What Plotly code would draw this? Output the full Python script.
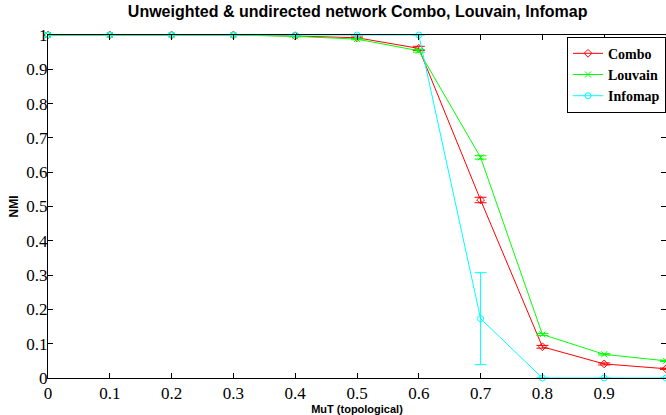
import plotly.graph_objects as go

mut = [0, 0.1, 0.2, 0.3, 0.4, 0.5, 0.6, 0.7, 0.8, 0.9, 1.0]
combo = [1.0, 1.0, 1.0, 1.0, 0.997, 0.992, 0.961, 0.519, 0.091, 0.041, 0.027]
combo_err = [0, 0, 0, 0, 0.002, 0.002, 0.006, 0.008, 0.004, 0.003, 0.002]
louvain = [1.0, 1.0, 1.0, 1.0, 0.996, 0.988, 0.954, 0.643, 0.127, 0.069, 0.05]
louvain_err = [0, 0, 0, 0, 0.001, 0.002, 0.004, 0.005, 0.003, 0.002, 0.002]
infomap = [1.0, 1.0, 1.0, 1.0, 1.0, 1.0, 1.0, 0.173, 0.0, 0.0, 0.0]
infomap_err = [0, 0, 0, 0, 0, 0, 0, 0.134, 0, 0, 0]

tick_vals = [0, 0.1, 0.2, 0.3, 0.4, 0.5, 0.6, 0.7, 0.8, 0.9, 1.0]
tick_text = ["0", "0.1", "0.2", "0.3", "0.4", "0.5", "0.6", "0.7", "0.8", "0.9", "1"]

series = [
    ("Combo", combo, combo_err, "#ff0000", "diamond-open"),
    ("Louvain", louvain, louvain_err, "#00ff00", "x-thin-open"),
    ("Infomap", infomap, infomap_err, "#00ffff", "circle-open"),
]

fig = go.Figure()
for name, y, err, color, sym in series:
    fig.add_trace(go.Scatter(
        x=mut, y=y, name="<b>" + name + "</b>", mode="lines+markers",
        line=dict(color=color, width=1),
        marker=dict(symbol=sym, size=6, color=color, line=dict(color=color, width=1)),
        error_y=dict(type="data", array=err, visible=True, color=color, thickness=1, width=6),
        cliponaxis=False,
    ))

axis_common = dict(
    showgrid=False, zeroline=False, showline=True, linecolor="black", linewidth=1,
    mirror="ticks", ticks="inside", ticklen=5, tickcolor="black",
    tickfont=dict(family="Liberation Serif", size=17, color="black"),
    tickvals=tick_vals, ticktext=tick_text, range=[0, 1],
)

fig.update_layout(
    width=666, height=415,
    margin=dict(l=48, r=0, t=35, b=37),
    paper_bgcolor="white", plot_bgcolor="white",
    title=dict(text="<b>Unweighted & undirected network Combo, Louvain, Infomap</b>",
               x=0.537, xanchor="center", y=0.972, yanchor="middle",
               font=dict(family="Liberation Sans", size=16, color="black")),
    xaxis=dict(**axis_common, ticklabelstandoff=0,
               title=dict(text="<b>MuT (topological)</b>", standoff=3,
                          font=dict(family="Liberation Sans", size=11, color="black"))),
    yaxis=dict(**axis_common, ticklabelstandoff=-4,
               title=dict(text="<b>NMI</b>", standoff=5,
                          font=dict(family="Liberation Sans", size=12, color="black"))),
    legend=dict(x=1, xanchor="right", y=0.995, yanchor="top",
                bgcolor="white", bordercolor="black", borderwidth=1,
                font=dict(family="Liberation Serif", size=14, color="black"),
                tracegroupgap=0, itemwidth=30),
    showlegend=True,
)

fig.write_html("out.html", config={"displayModeBar": False},
               post_script="document.body.style.margin='0px';")
